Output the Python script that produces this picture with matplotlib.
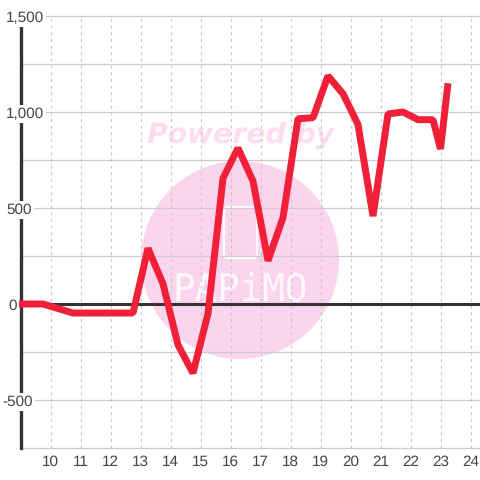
import matplotlib
matplotlib.use("Agg")
import matplotlib.pyplot as plt
from matplotlib.patches import Circle, FancyBboxPatch

hours = [8.9, 9.75, 10.75, 12.75, 13.25, 13.75, 14.25, 14.75, 15.25, 15.75, 16.25, 16.75,
         17.25, 17.75, 18.25, 18.75, 19.25, 19.75, 20.25, 20.75, 21.25, 21.75, 22.25,
         22.75, 23, 23.25]
values = [0, 0, -47, -47, 290, 105, -213, -360, -50, 655, 812, 640,
          225, 450, 965, 970, 1188, 1095, 935, 458, 990, 1000, 960,
          960, 807, 1150]
x_ticks = list(range(10, 25))
y_major = [1500, 1000, 500, 0, -500]
y_labels = ["1,500", "1,000", "500", "0", "-500"]
y_minor = [1250, 750, 250, -250, -750]

plt.rcParams['font.family'] = ['Liberation Sans', 'DejaVu Sans']
plt.rcParams['text.hinting'] = 'none'

fig = plt.figure(figsize=(4.8, 4.8), dpi=100)

# watermark, placed in pixels, sits under the grid
wm = fig.add_axes([0, 0, 1, 1], zorder=0)
wm.set_xlim(0, 480)
wm.set_ylim(480, 0)
wm.axis('off')
pink = '#fbd5ee'
wm.add_patch(Circle((240, 260), 99, color=pink, lw=0))
wm.add_patch(FancyBboxPatch((224, 207), 33, 51, boxstyle="round,pad=0,rounding_size=4",
                            fc='none', ec='white', lw=1.6))
wm.text(241, 135, "Powered by", color='#fcdcf1', fontsize=20.3, fontweight='bold', fontstyle='italic',
        ha='center', va='center', family=['DejaVu Sans'])
wm.text(240, 291, "PAPiMO", color='white', fontsize=27, ha='center', va='center',
        family=['DejaVu Sans Mono'], alpha=0.85)

ax = fig.add_axes([20.5/480, 32/480, (480-20.5)/480, 432/480], zorder=1)
ax.set_xlim(9, 9 + (480-20.5)/30)
ax.set_ylim(-750, 1500)
ax.patch.set_alpha(0)
for s in ax.spines.values():
    s.set_visible(False)
ax.set_xticks([])
ax.set_yticks([])

# gridlines
for y in y_major + y_minor:
    ax.axhline(y, color='#cccccc', linewidth=0.9, zorder=1, clip_on=False)
for x in x_ticks:
    ax.axvline(x, color='#c4c4c4', linewidth=0.8, linestyle=(0, (2.5, 3.5)), zorder=1)

ax.axvline(9, color='#333333', linewidth=2.4, zorder=2, clip_on=False)
ax.axhline(0, color='#333333', linewidth=2.2, zorder=2)
ax.plot(hours, values, color='#f02038', linewidth=5, solid_joinstyle='bevel',
        solid_capstyle='butt', zorder=3, clip_on=False)

for x in x_ticks:
    ax.annotate(str(x), (x, -750), xytext=(0, -14), textcoords='offset pixels', ha='center',
                va='center', fontsize=11, color='#444444', annotation_clip=False)
for y, lab in zip(y_major, y_labels):
    shift = -18.5 if lab.startswith("-") else (-12.5 if lab == "0" else -14.5)
    ax.annotate(lab, (9, y), xytext=(shift, -2), textcoords='offset pixels', ha='left', va='center',
                fontsize=11, color='#444444', annotation_clip=False, zorder=4,
                bbox=dict(fc='white', ec='none', pad=1.5))

fig.savefig("out.png", dpi=100)
